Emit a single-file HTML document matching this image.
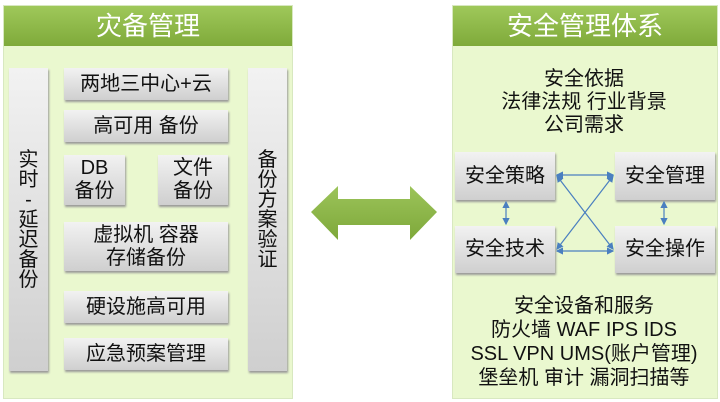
<!DOCTYPE html><html><head><meta charset="utf-8"><style>
body{margin:0;width:720px;height:402px;background:#fff;position:relative;overflow:hidden;font-family:"Liberation Sans","Noto Sans CJK SC",sans-serif;color:#111}
.p{position:absolute;background:#eaf8cf;border:1px solid #d8e8c0}
.h{position:absolute;left:0;right:0;top:0;height:40px;background:linear-gradient(#9fc85a,#7faa3a);color:#fff;font-size:26px;text-align:center;line-height:40px}
.b{position:absolute;background:linear-gradient(#f2f2f2,#cfcfcf);box-shadow:1px 2px 2px #999;display:flex;align-items:center;justify-content:center;text-align:center;font-size:20px;line-height:23px}
.v span{display:block;font-size:20px;line-height:20px}
.t{position:absolute;text-align:center;font-size:20px;line-height:23px}
</style></head><body>
<div class="p" style="left:3px;top:5px;width:288px;height:392px"><div class="h">灾备管理</div></div>
<div class="b v" style="left:9px;top:68px;width:39px;height:303px"><span>实<br>时<br>-<br>延<br>迟<br>备<br>份</span></div>
<div class="b v" style="left:248px;top:68px;width:39px;height:303px"><span style="margin-top:-20px">备<br>份<br>方<br>案<br>验<br>证</span></div>
<div class="b" style="left:64px;top:68px;width:164px;height:32px">两地三中心+云</div>
<div class="b" style="left:64px;top:110px;width:164px;height:32px">高可用 备份</div>
<div class="b" style="left:64px;top:155px;width:61px;height:50px">DB<br>备份</div>
<div class="b" style="left:158px;top:155px;width:70px;height:50px">文件<br>备份</div>
<div class="b" style="left:64px;top:222px;width:164px;height:49px">虚拟机 容器<br>存储备份</div>
<div class="b" style="left:64px;top:291px;width:164px;height:32px">硬设施高可用</div>
<div class="b" style="left:64px;top:338px;width:164px;height:32px">应急预案管理</div>
<svg style="position:absolute;left:0;top:0" width="720" height="402"><defs><linearGradient id="g" x1="0" y1="0" x2="0" y2="1"><stop offset="0" stop-color="#9cc45a"/><stop offset="1" stop-color="#7ea83a"/></linearGradient>
<marker id="m" markerWidth="6" markerHeight="6" refX="5" refY="3" orient="auto-start-reverse"><path d="M0,0L6,3L0,6z" fill="#4a7fc0"/></marker></defs>
<path d="M311,212L338,186L338,199L410,199L410,186L437,212L410,240L410,225L338,225L338,240Z" fill="url(#g)"/>
</svg>
<div class="p" style="left:452px;top:5px;width:264px;height:392px"><div class="h">安全管理体系</div></div>
<div class="t" style="left:452px;width:264px;top:68px">安全依据<br>法律法规 行业背景<br>公司需求</div>
<div class="b" style="left:455px;top:152px;width:100px;height:48px">安全策略</div>
<div class="b" style="left:615px;top:152px;width:100px;height:48px">安全管理</div>
<div class="b" style="left:455px;top:226px;width:100px;height:47px">安全技术</div>
<div class="b" style="left:615px;top:226px;width:100px;height:47px">安全操作</div>
<svg style="position:absolute;left:0;top:0" width="720" height="402" fill="none" stroke="#4a7fc0" stroke-width="1.2">
<line x1="557" y1="175" x2="613" y2="175" marker-start="url(#m)" marker-end="url(#m)"/>
<line x1="557" y1="251" x2="613" y2="251" marker-start="url(#m)" marker-end="url(#m)"/>
<line x1="557" y1="176" x2="613" y2="249" marker-start="url(#m)" marker-end="url(#m)"/>
<line x1="557" y1="249" x2="613" y2="176" marker-start="url(#m)" marker-end="url(#m)"/>
<line x1="506" y1="202" x2="506" y2="224" marker-start="url(#m)" marker-end="url(#m)"/>
<line x1="664" y1="202" x2="664" y2="224" marker-start="url(#m)" marker-end="url(#m)"/>
</svg>
<div class="t" style="left:452px;width:264px;top:294px;line-height:24px">安全设备和服务<br>防火墙 WAF IPS IDS<br>SSL VPN UMS(账户管理)<br>堡垒机 审计 漏洞扫描等</div>
</body></html>
